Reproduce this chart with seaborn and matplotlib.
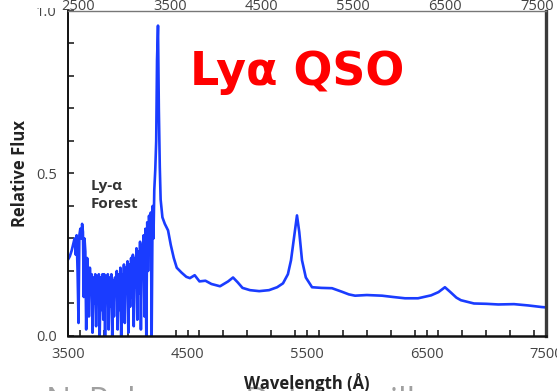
import matplotlib
matplotlib.use("Agg")
import matplotlib.pyplot as plt
from matplotlib.patches import Rectangle
from matplotlib.ticker import MultipleLocator, FormatStrFormatter
import seaborn as sns
import pandas as pd

# Quasar spectrum: wavelength (Angstrom) and relative flux
wavelength = [
    3500, 3515, 3530, 3545, 3555, 3565, 3572, 3580, 3588, 3595, 3603, 3612,
    3618, 3625, 3632, 3638, 3645, 3652, 3660, 3668, 3675, 3683, 3690, 3698,
    3705, 3713, 3720, 3728, 3735, 3743, 3750, 3758, 3765, 3773, 3780, 3788,
    3795, 3803, 3810, 3818, 3825, 3833, 3840, 3848, 3855, 3863, 3870, 3878,
    3885, 3893, 3900, 3908, 3915, 3923, 3930, 3938, 3945, 3953, 3960, 3968,
    3975, 3983, 3990, 3998, 4005, 4013, 4020, 4028, 4035, 4043, 4050, 4058,
    4065, 4073, 4080, 4088, 4095, 4103, 4110, 4118, 4125, 4133, 4140, 4148,
    4155, 4163, 4170, 4178, 4185, 4193, 4200, 4208, 4215, 4222, 4230, 4238,
    4245, 4253, 4260, 4268, 4275, 4290, 4310, 4337, 4360, 4385, 4410, 4450,
    4490, 4520, 4560, 4600, 4650, 4700, 4772, 4840, 4881, 4920, 4960, 5023,
    5100, 5182, 5250, 5299, 5340, 5366, 5390, 5416, 5435, 5458, 5490, 5542,
    5620, 5709, 5793, 5850, 5902, 6000, 6128, 6220, 6320, 6429, 6538, 6600,
    6654, 6700, 6750, 6788, 6897, 7000, 7100, 7232, 7350, 7466, 7500,
]
flux = [
    0.235, 0.245, 0.262, 0.285, 0.300, 0.250, 0.310, 0.200, 0.040, 0.310, 0.330, 0.300,
    0.345, 0.320, 0.120, 0.300, 0.260, 0.020, 0.240, 0.200, 0.060, 0.210, 0.150, 0.190,
    0.010, 0.180, 0.100, 0.190, 0.030, 0.170, 0.120, 0.190, 0.000, 0.180, 0.080, 0.190,
    0.050, 0.190, 0.000, 0.170, 0.120, 0.190, 0.020, 0.180, 0.090, 0.190, 0.000, 0.170,
    0.060, 0.180, 0.130, 0.200, 0.020, 0.190, 0.080, 0.210, 0.000, 0.190, 0.100, 0.220,
    0.040, 0.210, 0.140, 0.230, 0.010, 0.220, 0.090, 0.240, 0.120, 0.250, 0.030, 0.240,
    0.150, 0.270, 0.050, 0.260, 0.130, 0.290, 0.020, 0.280, 0.180, 0.310, 0.060, 0.330,
    0.000, 0.350, 0.200, 0.370, 0.280, 0.380, 0.000, 0.400, 0.300, 0.450, 0.510, 0.600,
    0.850, 0.955, 0.700, 0.520, 0.420, 0.365, 0.345, 0.325, 0.280, 0.240, 0.210, 0.195,
    0.182, 0.178, 0.187, 0.168, 0.170, 0.160, 0.153, 0.168, 0.180, 0.165, 0.148, 0.141,
    0.138, 0.141, 0.150, 0.162, 0.190, 0.233, 0.300, 0.371, 0.320, 0.233, 0.180, 0.150,
    0.148, 0.147, 0.136, 0.128, 0.124, 0.126, 0.124, 0.120, 0.116, 0.116, 0.125, 0.135,
    0.150, 0.135, 0.118, 0.110, 0.100, 0.099, 0.097, 0.098, 0.094, 0.089, 0.088,
]

bottom_ticks = [3500, 4500, 5500, 6500, 7500]
top_ticks = [2500, 3500, 4500, 5500, 6500, 7500]
y_ticks = [0.0, 0.5, 1.0]

spectrum = pd.DataFrame({"wavelength": wavelength, "flux": flux})

sns.set_theme(style="ticks")
plt.rcParams["font.family"] = ["Open Sans", "DejaVu Sans"]

fig = plt.figure(figsize=(5.57, 3.91), dpi=100)
ax = fig.add_axes([0.1221, 0.1407, 0.8582, 0.8312])

sns.lineplot(data=spectrum, x="wavelength", y="flux", ax=ax,
             color="#1a3cff", linewidth=1.9, estimator=None, sort=False)

ax.set_xlim(3500, 7500)
ax.set_ylim(0, 1.0)
ax.set_xticks(bottom_ticks)
ax.xaxis.set_minor_locator(MultipleLocator(200))
ax.set_yticks(y_ticks)
ax.yaxis.set_minor_locator(MultipleLocator(0.1))
ax.yaxis.set_major_formatter(FormatStrFormatter("%.1f"))
ax.tick_params(axis="both", which="both", direction="in", length=4,
               width=1.2, color="#222222", labelsize=10.5,
               labelcolor="#444444")
ax.tick_params(axis="x", pad=8)
ax.tick_params(axis="y", pad=8)

ax.set_xlabel("Wavelength (Å)", fontsize=12, fontweight="bold",
              color="#222222", labelpad=8)
ax.set_ylabel("Relative Flux", fontsize=12, fontweight="bold",
              color="#222222", labelpad=5)

for side in ["left", "bottom", "right", "top"]:
    ax.spines[side].set_visible(True)
ax.spines["left"].set_color("#111111")
ax.spines["left"].set_linewidth(1.4)
ax.spines["bottom"].set_color("#111111")
ax.spines["bottom"].set_linewidth(1.8)
ax.spines["right"].set_color("#3a3a3a")
ax.spines["right"].set_linewidth(2.4)
ax.spines["top"].set_color("#777777")
ax.spines["top"].set_linewidth(1.0)

ax.text(0.048, 0.434, "Ly-α\nForest", transform=ax.transAxes,
        fontsize=11, fontweight="bold", color="#333333",
        ha="left", va="center", linespacing=1.35)

ax.text(0.255, 0.772, "Lyα QSO", transform=ax.transAxes,
        fontsize=33, fontweight="bold", color="#ff0000",
        family="DejaVu Sans", ha="left", va="baseline")

# white band across the very top of the figure
fig.patches.append(Rectangle((0, (391 - 8) / 391), 1, 8 / 391,
                             transform=fig.transFigure, facecolor="white",
                             edgecolor="none", zorder=1))

# second wavelength scale along the top edge
top = ax.twiny()
top.set_zorder(2)
top.patch.set_visible(False)
top.set_xlim(2391, 7599)
top.set_xticks(top_ticks)
top.tick_params(axis="x", which="both", length=0, pad=-2.5,
                labelsize=10.5, labelcolor="#444444")
for side in ["left", "bottom", "right", "top"]:
    top.spines[side].set_visible(False)

fig.text(46 / 557, (391 - 386) / 391, "N. Palanque-Delabrouille",
         fontsize=24, color="#a0a0a0", ha="left", va="top", zorder=-1)

fig.savefig("out.png", dpi=100)
